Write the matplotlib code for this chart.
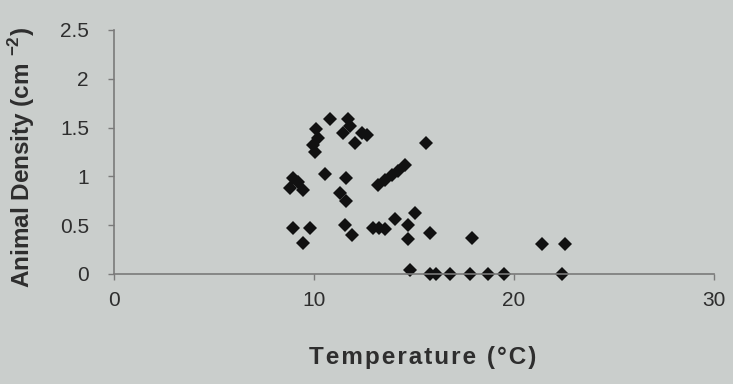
import matplotlib as mpl
mpl.use('Agg')
import matplotlib.pyplot as plt

# temperature (deg C) and animal density (cm^-2)
temperature = [10.8, 11.7, 11.8, 10.1, 10.2, 9.95, 10.05, 11.45, 12.4, 12.65,
               12.05, 15.6, 8.97, 9.2, 8.8, 9.47, 10.55, 11.6, 11.3, 11.6,
               13.2, 13.55, 13.9, 14.2, 14.55, 8.97, 9.8, 9.47, 11.55, 11.9,
               12.97, 13.25, 13.55, 14.05, 15.05, 14.7, 14.7, 15.8, 17.9, 14.8,
               15.8, 16.1, 16.8, 17.8, 18.7, 19.5, 21.4, 22.55, 22.4]
density = [1.59, 1.59, 1.52, 1.49, 1.39, 1.32, 1.25, 1.44, 1.44, 1.42,
           1.34, 1.34, 0.98, 0.94, 0.88, 0.86, 1.02, 0.98, 0.83, 0.75,
           0.91, 0.96, 1.01, 1.06, 1.12, 0.47, 0.47, 0.32, 0.50, 0.40,
           0.47, 0.47, 0.46, 0.56, 0.62, 0.50, 0.36, 0.42, 0.37, 0.04,
           0.0, 0.0, 0.0, 0.0, 0.0, 0.0, 0.31, 0.31, 0.0]

x_ticks = [0, 10, 20, 30]
y_ticks = [0, 0.5, 1, 1.5, 2, 2.5]
y_tick_labels = ['0', '0.5', '1', '1.5', '2', '2.5']

bg = '#caceCC'
ink = '#2e2e2e'

plt.rcParams['font.family'] = ['Liberation Sans', 'DejaVu Sans']
plt.rcParams['mathtext.fontset'] = 'custom'
plt.rcParams['mathtext.rm'] = 'Liberation Sans'
plt.rcParams['mathtext.bf'] = 'Liberation Sans:bold'

fig = plt.figure(figsize=(7.33, 3.84), dpi=100, facecolor=bg)
ax = fig.add_axes([0.1555, 0.2865, 0.8185, 0.6355])
ax.set_facecolor(bg)

ax.plot(temperature, density, 'D', color='#111111', markersize=7.5,
        markeredgewidth=0, linestyle='none', clip_on=False)

ax.set_xlim(0, 30)
ax.set_ylim(0, 2.5)
ax.set_xticks(x_ticks)
ax.set_yticks(y_ticks)
ax.set_yticklabels(y_tick_labels)

for side in ['top', 'right']:
    ax.spines[side].set_visible(False)
for side in ['left', 'bottom']:
    ax.spines[side].set_color('#7a7a7a')
    ax.spines[side].set_linewidth(1.2)

ax.tick_params(axis='both', direction='out', length=4, width=1,
               color='#7a7a7a', labelcolor=ink, labelsize=15)
ax.tick_params(axis='x', pad=8)
ax.tick_params(axis='y', pad=14)

# the photographed slide has widely spaced letters in the x title
xtitle = '\u200a'.join('Temperature (°C)')
fig.text(0.576, 0.07, xtitle, ha='center', va='center', fontsize=17.5,
         fontweight='bold', color=ink)
fig.text(0.03, 0.59, r'Animal Density (cm $^{\mathbf{-2}}$)', ha='center',
         va='center', rotation=90, fontsize=17.5, fontweight='bold', color=ink)

fig.savefig('out.png', dpi=100, facecolor=bg)
